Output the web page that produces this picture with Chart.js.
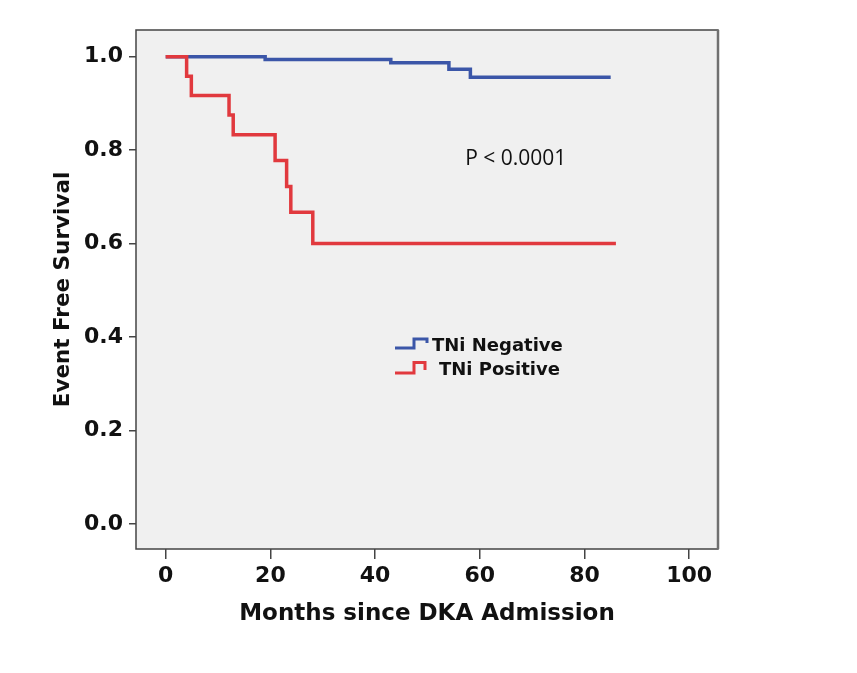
<!DOCTYPE html>
<html>
<head>
<meta charset="utf-8">
<script src="https://cdn.jsdelivr.net/npm/chart.js@4/dist/chart.umd.min.js"></script>
<style>
  html, body { margin: 0; padding: 0; background: #ffffff; }
  #wrap { width: 857px; height: 673px; }
</style>
</head>
<body>
<div id="wrap"><canvas id="km-chart" width="857" height="673"></canvas></div>
<script>
// Kaplan-Meier steps (months, survival after the step)
const negTimes = [0, 19, 43, 54.1, 58.2, 85];
const negSurv = [1.0, 0.994, 0.987, 0.973, 0.956, 0.956];
const posTimes = [0, 4, 4.9, 12.1, 12.9, 20.9, 23.1, 23.9, 28.1, 86];
const posSurv = [1.0, 0.958, 0.917, 0.875, 0.833, 0.778, 0.722, 0.667, 0.6, 0.6];

const seriesNames = ['TNi Negative', 'TNi Positive'];
const xTicks = [0, 20, 40, 60, 80, 100];
const yTicks = [0.0, 0.2, 0.4, 0.6, 0.8, 1.0];
const pText = 'P < 0.0001';

const blue = '#3b56a8';
const red = '#e1393e';

const toPoints = (xs, ys) => xs.map((x, i) => ({ x: x, y: ys[i] }));

// grey plot background and frame
const frame = {
  id: 'frame',
  beforeDraw(chart) {
    const { ctx, chartArea: a } = chart;
    ctx.save();
    ctx.fillStyle = '#f0f0f0';
    ctx.fillRect(a.left, a.top, a.right - a.left, a.bottom - a.top);
    ctx.restore();
  },
  afterDraw(chart) {
    const { ctx, chartArea: a } = chart;
    ctx.save();
    ctx.strokeStyle = '#444';
    ctx.lineWidth = 1.5;
    ctx.strokeRect(a.left, a.top, a.right - a.left, a.bottom - a.top);
    ctx.strokeStyle = '#707070';
    ctx.lineWidth = 2.5;
    ctx.beginPath();
    ctx.moveTo(a.right, a.top);
    ctx.lineTo(a.right, a.bottom);
    ctx.stroke();
    ctx.restore();
  }
};

// step-shaped legend and p value text
const notes = {
  id: 'notes',
  afterDatasetsDraw(chart) {
    const { ctx, scales } = chart;
    ctx.save();
    ctx.font = '21px "Open Sans"';
    ctx.fillStyle = '#111';
    ctx.textBaseline = 'alphabetic';
    ctx.fillText(pText, scales.x.getPixelForValue(57.2), scales.y.getPixelForValue(0.768));

    const items = [
      { ds: chart.data.datasets[0], y0: 348, y1: 339, y2: 343, xe: 427, tx: 432, ty: 351 },
      { ds: chart.data.datasets[1], y0: 373, y1: 362.5, y2: 370, xe: 425, tx: 439, ty: 375 }
    ];
    ctx.lineWidth = 3;
    ctx.lineJoin = 'miter';
    items.forEach(it => {
      ctx.strokeStyle = it.ds.borderColor;
      ctx.beginPath();
      ctx.moveTo(395, it.y0);
      ctx.lineTo(414, it.y0);
      ctx.lineTo(414, it.y1);
      ctx.lineTo(it.xe, it.y1);
      ctx.lineTo(it.xe, it.y2);
      ctx.stroke();
      ctx.font = 'bold 18px "DejaVu Sans"';
      ctx.fillStyle = '#111';
      ctx.fillText(it.ds.label, it.tx, it.ty);
    });
    ctx.restore();
  }
};

const ctx = document.getElementById('km-chart');

new Chart(ctx, {
  type: 'line',
  data: {
    datasets: [
      {
        label: seriesNames[0],
        data: toPoints(negTimes, negSurv),
        borderColor: blue,
        borderWidth: 3.5,
        stepped: 'before',
        pointRadius: 0,
        fill: false,
        order: 1,
      },
      {
        label: seriesNames[1],
        data: toPoints(posTimes, posSurv),
        borderColor: red,
        borderWidth: 3.5,
        stepped: 'before',
        pointRadius: 0,
        fill: false,
        order: 0,
      },
    ],
  },
  plugins: [frame, notes],
  options: {
    responsive: false,
    animation: false,
    devicePixelRatio: 1,
    layout: { padding: { left: 0, top: 30, right: 139, bottom: 0 } },
    plugins: {
      legend: { display: false },
      tooltip: { enabled: false },
    },
    scales: {
      x: {
        type: 'linear',
        min: -5.67,
        max: 105.5,
        afterBuildTicks: s => { s.ticks = xTicks.map(v => ({ value: v })); },
        afterFit: s => { s.height = 124; },
        grid: { drawOnChartArea: false, tickLength: 10, color: '#444', lineWidth: 1.5 },
        border: { display: false },
        ticks: {
          padding: 4,
          color: '#111',
          font: { family: 'DejaVu Sans', weight: 'bold', size: 22 },
        },
        title: {
          display: true,
          text: 'Months since DKA Admission',
          color: '#111',
          font: { family: 'DejaVu Sans', weight: 'bold', size: 23 },
          padding: { top: 0, bottom: 45 },
        },
      },
      y: {
        type: 'linear',
        min: -0.0535,
        max: 1.057,
        afterBuildTicks: s => { s.ticks = yTicks.map(v => ({ value: v })); },
        afterFit: s => { s.width = 136; },
        grid: { drawOnChartArea: false, tickLength: 7, color: '#444', lineWidth: 1.5 },
        border: { display: false },
        ticks: {
          padding: 6,
          color: '#111',
          font: { family: 'DejaVu Sans', weight: 'bold', size: 22 },
          callback: v => v.toFixed(1),
        },
        title: {
          display: true,
          text: 'Event Free Survival',
          color: '#111',
          font: { family: 'DejaVu Sans', weight: 'bold', size: 21.5 },
          padding: { top: 51, bottom: 0 },
        },
      },
    },
  },
});
</script>
</body>
</html>
